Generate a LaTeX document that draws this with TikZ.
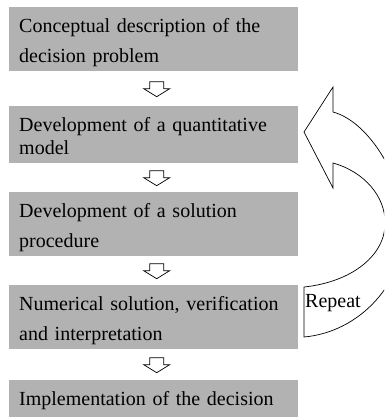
\documentclass[tikz,border=0pt]{standalone}
\usepackage{fontspec}
\setmainfont{Liberation Serif}
\usetikzlibrary{calc}
\definecolor{boxgray}{RGB}{178,178,178}
\tikzset{
  stage/.style={fill=boxgray, anchor=north west, text width=269pt,
    inner xsep=10pt, inner ysep=0pt, align=left,
    font=\fontsize{20}{30}\selectfont,
    execute at begin node={\rule{0pt}{25pt}},
    execute at end node={\rule[-9pt]{0pt}{9pt}}},
  blockarrow/.style={draw=black, line width=0.7pt, fill=white},
  loopback/.style={draw=black, line width=0.7pt}
}
\begin{document}
\begin{tikzpicture}[x=1pt,y=-1pt]
  \useasboundingbox (0,0) rectangle (384,417);
  \clip (0,0) rectangle (384,417);
  \node[stage] (b1) at (9,7) {Conceptual description of the\\decision problem};
  \node[stage, font=\fontsize{20}{23}\selectfont] (b2) at (9,106) {Development of a quantitative\\model};
  \node[stage] (b3) at (9,192) {Development of a solution\\procedure};
  \node[stage] (b4) at (9,285) {Numerical solution, verification\\and interpretation};
  \node[stage] (b5) at (9,380) {Implementation of the decision\rule[-30pt]{0pt}{30pt}};
  %%
  \foreach \from/\to in {b1/b2,b2/b3,b3/b4,b4/b5}
    \draw[blockarrow] ($(\from.south)!.5!(\to.north)+(3,-7)$)
      +(-7,0) -- +(7,0) -- +(7,7) -- +(13,7) -- +(0,15) -- +(-13,7) -- +(-7,7) -- cycle;
  %%
  \draw[loopback] (304,132) -- (333,87) -- (333,112)
    .. controls (370,122) and (403,180) .. (405,225)
    .. controls (405,283) and (360,332) .. (304,337)
    -- (304,287)
    .. controls (352,282) and (386,255) .. (385,222)
    .. controls (385,197) and (365,172) .. (333,163)
    -- (333,188) -- cycle;
  \node[anchor=base west, inner sep=0pt, font=\fontsize{20}{24}\selectfont] (rep) at (305,307) {Repeat};
\end{tikzpicture}
\end{document}
